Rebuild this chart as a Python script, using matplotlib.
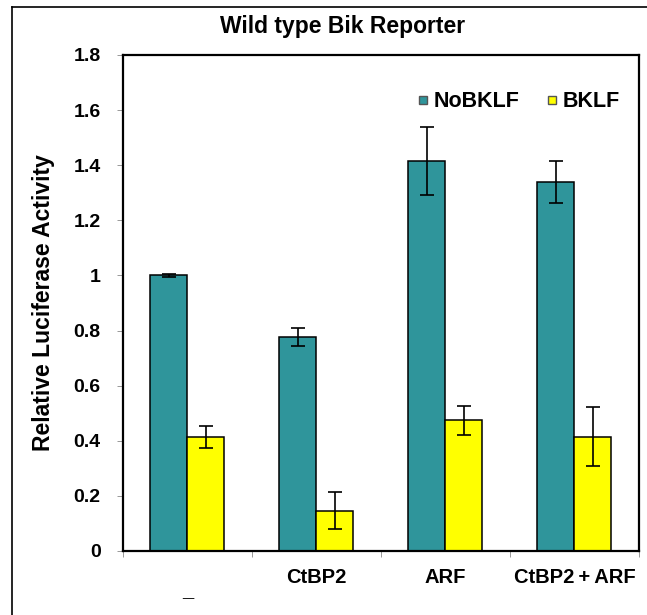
import numpy as np
import matplotlib
matplotlib.use("Agg")
import matplotlib.pyplot as plt
from matplotlib.lines import Line2D
from matplotlib.transforms import ScaledTranslation

plt.rcParams['font.family'] = ['Liberation Sans', 'DejaVu Sans']
plt.rcParams['font.weight'] = 'bold'

# data
categories = ["_", "CtBP2", "ARF", "CtBP2\u2009+\u2009ARF"]
no_bklf = [1.00, 0.776, 1.416, 1.339]
no_bklf_err = [0.006, 0.032, 0.123, 0.077]
bklf = [0.415, 0.146, 0.474, 0.415]
bklf_err = [0.04, 0.067, 0.052, 0.106]
series_names = ["NoBKLF", "BKLF"]
yticks = [0, 0.2, 0.4, 0.6, 0.8, 1, 1.2, 1.4, 1.6, 1.8]
ytick_labels = ["0", "0.2", "0.4", "0.6", "0.8", "1", "1.2", "1.4", "1.6", "1.8"]

teal = "#2f959b"
yellow = "#ffff00"

fig = plt.figure(figsize=(6.47, 6.15), dpi=100)
ax = fig.add_axes([0.190, 0.1041, 0.7976, 0.8065])

x = np.arange(len(categories))
w = 0.287
ekw = dict(ecolor="black", elinewidth=1.2, capsize=5, capthick=1.2)
ax.bar(x - w / 2, no_bklf, w, color=teal, edgecolor="black", linewidth=1.1,
       yerr=no_bklf_err, error_kw=ekw)
ax.bar(x + w / 2, bklf, w, color=yellow, edgecolor="black", linewidth=1.1,
       yerr=bklf_err, error_kw=ekw)

ax.set_xlim(-0.5, len(categories) - 0.5)
ax.set_ylim(0, 1.8)
ax.set_yticks(yticks)
ax.set_yticklabels(ytick_labels, fontsize=14, fontweight="bold")
ax.set_xticks(x)
ax.set_xticklabels(categories, fontsize=14.5, fontweight="bold")
ax.set_xticks(np.arange(len(categories) + 1) - 0.5, minor=True)
ax.tick_params(axis="x", which="major", length=0, pad=12)
ax.tick_params(axis="x", which="minor", length=4, direction="out", width=0.6, color="#888888")
ax.tick_params(axis="y", length=4, direction="out", width=0.6, color="#888888", pad=12)
for s in ax.spines.values():
    s.set_linewidth(1.6)

# the first label sits lower in the original
first = ax.get_xticklabels()[0]
first.set_transform(first.get_transform() + ScaledTranslation(0, -10 / 72, fig.dpi_scale_trans))

ax.set_ylabel("Relative Luciferase Activity", fontsize=16.5, fontweight="bold")
ax.yaxis.set_label_coords(-0.131, 0.5)
fig.text(0.53, 1 - 26 / 615, "Wild type Bik Reporter", ha="center", va="center",
         fontsize=16.5, fontweight="bold")

handles = [Line2D([], [], marker="s", linestyle="none", markersize=6,
                  markerfacecolor=c, markeredgecolor="#555555") for c in (teal, yellow)]
ax.legend(handles, series_names, ncol=2, frameon=False, loc="upper right",
          bbox_to_anchor=(1.0, 0.966), handletextpad=0.0, columnspacing=1.0,
          handlelength=1.0, prop=dict(size=15.5, weight="bold"))

# outer frame of the original figure
fig.add_artist(Line2D([12 / 647, 12 / 647], [0, 1 - 7 / 615], color="black", lw=1.2,
                      transform=fig.transFigure))
fig.add_artist(Line2D([12 / 647, 1], [1 - 7 / 615, 1 - 7 / 615], color="black", lw=1.2,
                      transform=fig.transFigure))

fig.savefig("out.png", dpi=100)
